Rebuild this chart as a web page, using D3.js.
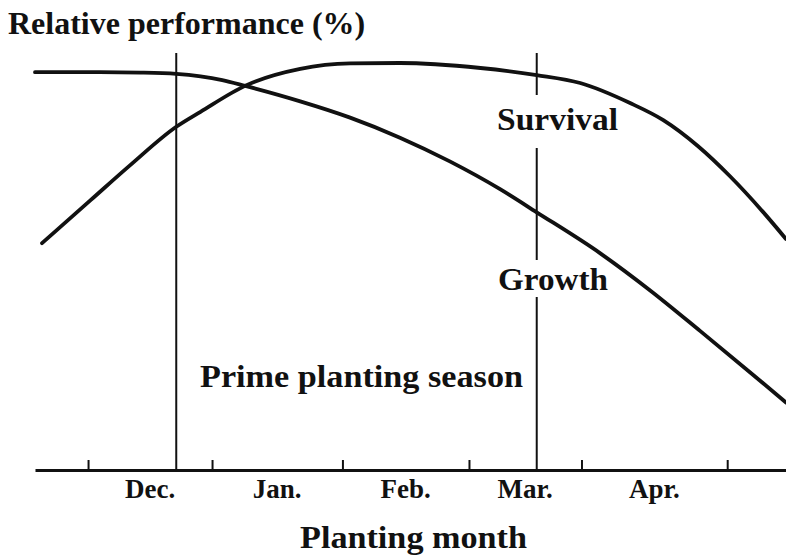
<!DOCTYPE html>
<html>
<head>
<meta charset="utf-8">
<script src="https://cdn.jsdelivr.net/npm/d3@7"></script>
<style>
  html, body { margin: 0; padding: 0; background: #fff; }
  svg { display: block; }
  text { font-family: "Liberation Serif", "Times New Roman", serif; font-weight: bold; fill: #111; }
</style>
</head>
<body>
<svg id="chart" width="786" height="555"></svg>
<script>
// ---------- data (x in months, 0 = start of December; y in relative %) ----------
const monthLabels = ["Dec.", "Jan.", "Feb.", "Mar.", "Apr."];
const monthBoundaries = [0, 0.97, 1.99, 2.98, 3.86, 5.0];
const seasonBounds = [0.69, 3.51];

const growthX = [-0.415, 0.09, 0.41, 0.69, 0.88, 1.05, 1.23, 1.66, 2.05, 2.44, 2.83, 3.22, 3.51, 4.01, 4.40, 4.79, 5.18, 5.46];
const growthY = [95.4, 95.4, 95.3, 95.0, 94.4, 93.5, 92.1, 88.4, 84.5, 79.7, 74.0, 67.4, 61.8, 51.9, 43.0, 33.3, 23.4, 16.2];

const survivalX = [-0.36, 0.02, 0.33, 0.69, 0.88, 1.24, 1.66, 2.05, 2.44, 3.07, 3.51, 3.85, 4.24, 4.50, 4.77, 5.02, 5.28, 5.46];
const survivalY = [54.4, 64.7, 73.1, 82.3, 85.9, 92.3, 96.2, 97.5, 97.6, 96.4, 94.7, 92.8, 88.0, 83.9, 77.7, 70.5, 61.9, 55.4];

const titleText = "Relative performance (%)";
const xTitleText = "Planting month";
const seasonText = "Prime planting season";

(function () {
  const svg = d3.select("#chart");
  const x = d3.scaleLinear().domain([-0.415, 5.46]).range([35, 786]);
  const y = d3.scaleLinear().domain([0, 100]).range([470, 53]);

  svg.append("rect").attr("width", 786).attr("height", 555).attr("fill", "#fff");

  // axis with upward ticks
  const axis = d3.axisBottom(x)
    .tickValues(monthBoundaries)
    .tickFormat("")
    .tickSizeInner(-10)
    .tickSizeOuter(0);
  const gAxis = svg.append("g").attr("transform", `translate(0,${y(0)})`).call(axis);
  gAxis.select(".domain").attr("stroke", "#111").attr("stroke-width", 3);
  gAxis.selectAll(".tick line").attr("stroke", "#111").attr("stroke-width", 2);

  // month labels centered between boundaries
  svg.append("g").selectAll("text")
    .data(monthLabels)
    .join("text")
    .attr("x", (d, i) => x((monthBoundaries[i] + monthBoundaries[i + 1]) / 2))
    .attr("y", 498)
    .attr("text-anchor", "middle")
    .attr("font-size", 27)
    .text(d => d);

  // curve labels (with gaps in the season line)
  const labels = [
    { text: "Survival", x: 497, base: 130, above: 35, below: 18, w: 121 },
    { text: "Growth", x: 498, base: 290, above: 30, below: 7, w: 110 }
  ];

  const yTop = y(100), yBottom = y(0);
  function segmentsFor(xv) {
    const px = x(xv);
    const gaps = labels
      .filter(l => px > l.x && px < l.x + l.w)
      .map(l => [l.base - l.above, l.base + l.below])
      .sort((a, b) => a[0] - b[0]);
    const segs = [];
    let start = yTop;
    gaps.forEach(g => { segs.push([start, g[0]]); start = g[1]; });
    segs.push([start, yBottom]);
    return segs.map(s => ({ x: px, y1: s[0], y2: s[1] }));
  }
  const segs = seasonBounds.flatMap(segmentsFor);
  svg.append("g").selectAll("line")
    .data(segs)
    .join("line")
    .attr("x1", d => d.x).attr("x2", d => d.x)
    .attr("y1", d => d.y1).attr("y2", d => d.y2)
    .attr("stroke", "#111").attr("stroke-width", 2);

  // curves
  const line = d3.line()
    .x(d => x(d[0]))
    .y(d => y(d[1]))
    .curve(d3.curveMonotoneX);
  const growth = growthX.map((v, i) => [v, growthY[i]]);
  const survival = survivalX.map((v, i) => [v, survivalY[i]]);
  svg.append("path").datum(growth).attr("d", line)
    .attr("fill", "none").attr("stroke", "#111").attr("stroke-width", 3.8).attr("stroke-linecap", "round");
  svg.append("path").datum(survival).attr("d", line)
    .attr("fill", "none").attr("stroke", "#111").attr("stroke-width", 3.8).attr("stroke-linecap", "round");

  // texts
  labels.forEach(l => {
    svg.append("text")
      .attr("x", l.x).attr("y", l.base)
      .attr("font-size", 32)
      .attr("textLength", l.w).attr("lengthAdjust", "spacingAndGlyphs")
      .text(l.text);
  });

  svg.append("text")
    .attr("x", 200).attr("y", 387)
    .attr("font-size", 32)
    .attr("textLength", 323).attr("lengthAdjust", "spacingAndGlyphs")
    .text(seasonText);

  svg.append("text")
    .attr("x", 8).attr("y", 34)
    .attr("font-size", 32)
    .text(titleText);

  svg.append("text")
    .attr("x", 300).attr("y", 548)
    .attr("font-size", 32)
    .attr("textLength", 227).attr("lengthAdjust", "spacingAndGlyphs")
    .text(xTitleText);
})();
</script>
</body>
</html>
